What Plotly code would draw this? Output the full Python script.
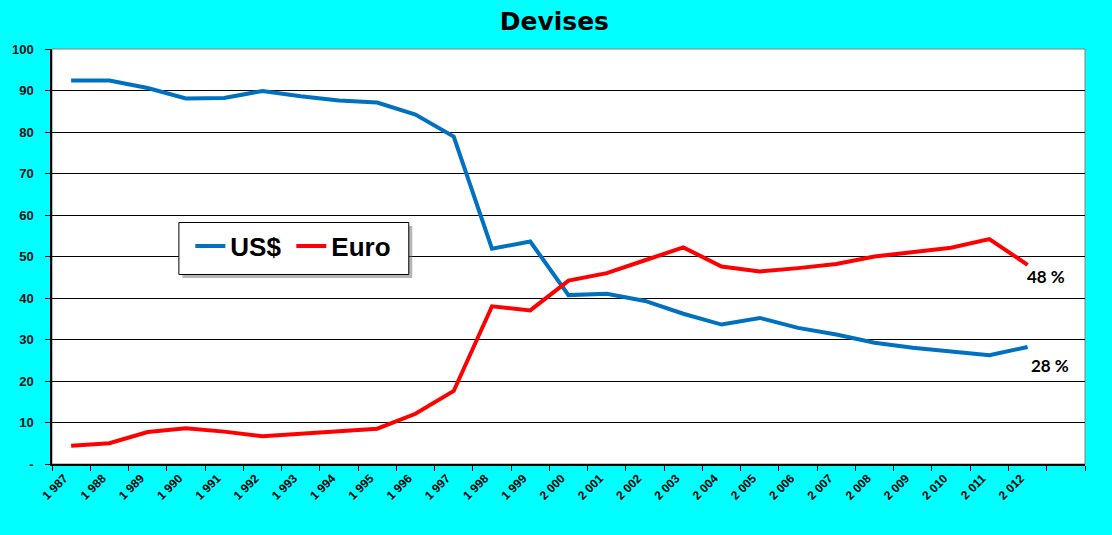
import plotly.graph_objects as go

years = ["1 987", "1 988", "1 989", "1 990", "1 991", "1 992", "1 993", "1 994", "1 995",
         "1 996", "1 997", "1 998", "1 999", "2 000", "2 001", "2 002", "2 003", "2 004",
         "2 005", "2 006", "2 007", "2 008", "2 009", "2 010", "2 011", "2 012"]
usd = [92.4, 92.4, 90.6, 88.1, 88.2, 89.9, 88.6, 87.6, 87.1, 84.2, 78.9, 51.9, 53.6,
       40.7, 41.0, 39.3, 36.2, 33.6, 35.2, 32.8, 31.2, 29.2, 28.0, 27.0, 26.2, 28.2]
euro = [4.4, 5.0, 7.7, 8.6, 7.8, 6.7, 7.3, 8.0, 8.5, 12.1, 17.6, 38.0, 37.0,
        44.2, 46.0, 49.1, 52.2, 47.6, 46.4, 47.2, 48.2, 50.0, 51.1, 52.1, 54.2, 48.0]
categories = years + [" "]
y_ticks = [0, 10, 20, 30, 40, 50, 60, 70, 80, 90, 100]
y_labels = ["-", "10", "20", "30", "40", "50", "60", "70", "80", "90", "100"]
end_labels = ["28 %", "48 %"]

W, H = 1112, 535
ML, MR, MT, MB = 47, 27, 49, 71
PW, PH = W - ML - MR, H - MT - MB

def px_x(p):
    return (p - ML) / PW

def px_y(p):
    return (H - MB - p) / PH

fig = go.Figure()
fig.add_trace(go.Scatter(x=years, y=usd, mode="lines", name="US$",
                         line=dict(color="#0070C0", width=4)))
fig.add_trace(go.Scatter(x=years, y=euro, mode="lines", name="Euro",
                         line=dict(color="#FF0000", width=4)))

# legend shadow and box
fig.add_shape(type="rect", xref="paper", yref="paper", layer="above",
              x0=px_x(178), x1=px_x(409), y0=px_y(278), y1=px_y(226),
              fillcolor="rgba(110,110,110,0.5)", line=dict(width=0))
fig.add_shape(type="rect", xref="paper", yref="paper", layer="above",
              x0=px_x(174.5), x1=px_x(405.5), y0=px_y(274.5), y1=px_y(222.5),
              fillcolor="white", line=dict(color="black", width=1))
# plot frame
fig.add_shape(type="rect", xref="paper", yref="paper", layer="below",
              x0=0, x1=1, y0=0, y1=1, line=dict(color="#808080", width=1),
              fillcolor="rgba(0,0,0,0)")

fig.add_annotation(x=years[-1], y=euro[-1], text=end_labels[1], showarrow=False,
                   xshift=18, yshift=-12,
                   font=dict(family="Lato", size=17, color="black", weight="bold"))
fig.add_annotation(x=years[-1], y=usd[-1], text=end_labels[0], showarrow=False,
                   xshift=22, yshift=-19,
                   font=dict(family="Lato", size=17, color="black", weight="bold"))

fig.update_layout(
    width=W, height=H,
    margin=dict(l=ML, r=MR, t=MT, b=MB),
    paper_bgcolor="#00FFFF",
    plot_bgcolor="white",
    title=dict(text="<b>Devises</b>", x=0.4985, xanchor="center", y=1 - 30 / H,
               yanchor="bottom", yref="container",
               font=dict(family="DejaVu Sans", size=25, color="black")),
    showlegend=True,
    legend=dict(orientation="h", x=px_x(186), y=px_y(222.5), xanchor="left",
                yanchor="top", bgcolor="rgba(0,0,0,0)", borderwidth=0,
                font=dict(family="Arial", size=26, color="black", weight="bold"),
                entrywidth=56, entrywidthmode="pixels",
                itemwidth=30, traceorder="normal"),
    xaxis=dict(type="category", categoryorder="array", categoryarray=categories,
               range=[-0.5, len(categories) - 0.5], tickson="boundaries",
               ticks="outside", ticklen=5, tickcolor="black", showgrid=False,
               showline=True, linecolor="black", linewidth=1.5,
               tickangle=-45, ticklabelstandoff=1, ticklabelshift=-7,
               tickfont=dict(family="Arial", size=12, color="black", weight="bold")),
    yaxis=dict(range=[0, 100], tickvals=y_ticks, ticktext=y_labels,
               ticks="outside", ticklen=5, tickcolor="black",
               showgrid=True, gridcolor="black", gridwidth=1,
               showline=True, linecolor="black", linewidth=1.5,
               ticklabelstandoff=9, zeroline=False,
               tickfont=dict(family="Arial", size=13, color="#111111", weight="bold")),
)

fig.write_html("out.html", config={"displayModeBar": False},
               post_script="document.body.style.margin='0';"
                           "document.body.style.background='#00FFFF';")
